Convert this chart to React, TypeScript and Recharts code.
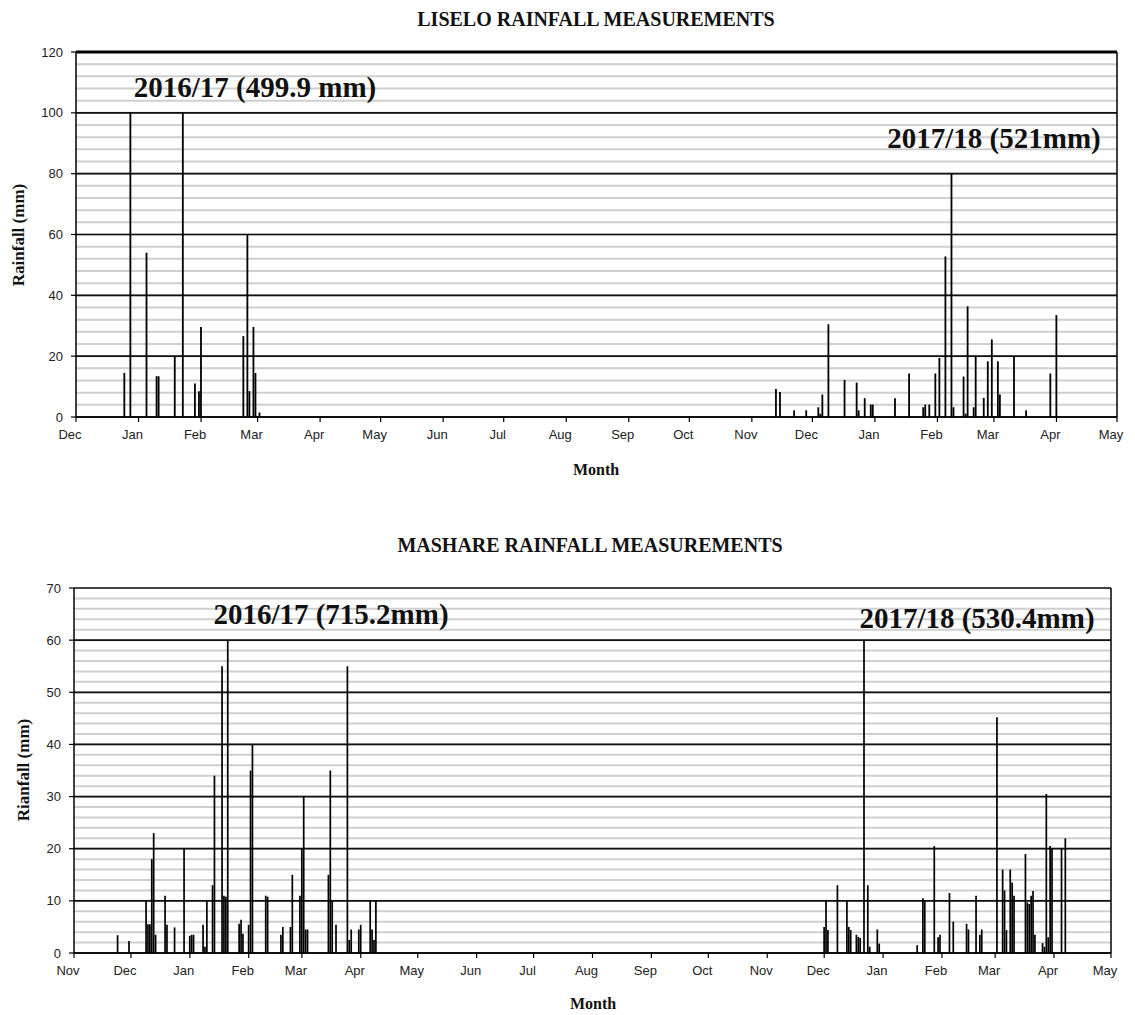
import React from 'react'
import { ComposedChart, Bar, XAxis, YAxis, CartesianGrid, ReferenceLine } from 'recharts'

const MONTHS = ['Jan', 'Feb', 'Mar', 'Apr', 'May', 'Jun', 'Jul', 'Aug', 'Sep', 'Oct', 'Nov', 'Dec']

// Liselo daily rainfall (mm)
const liseloDates = [
  '2016-12-25', '2016-12-28', '2017-01-05', '2017-01-10', '2017-01-11', '2017-01-19', '2017-01-23',
  '2017-01-29', '2017-01-31', '2017-02-01', '2017-02-22', '2017-02-24', '2017-02-25', '2017-02-27',
  '2017-02-28', '2017-03-02',
  '2017-11-13', '2017-11-15', '2017-11-22', '2017-11-28', '2017-12-04', '2017-12-05', '2017-12-06',
  '2017-12-09', '2017-12-17', '2017-12-23', '2017-12-24', '2017-12-27', '2017-12-30', '2017-12-31',
  '2018-01-11', '2018-01-18', '2018-01-25', '2018-01-26', '2018-01-28', '2018-01-31', '2018-02-02',
  '2018-02-05', '2018-02-08', '2018-02-09', '2018-02-14', '2018-02-15', '2018-02-16', '2018-02-19',
  '2018-02-20', '2018-02-24', '2018-02-26', '2018-02-28', '2018-03-03', '2018-03-04', '2018-03-11',
  '2018-03-17', '2018-03-29', '2018-04-01',
]
const liseloRain = [
  14.5, 100, 54, 13.4, 13.4, 20, 100,
  11, 8.5, 29.6, 26.6, 60, 8.5, 29.6,
  14.5, 1.5,
  9.2, 8.2, 2.2, 2.2, 3.2, 1.1, 7.4,
  30.5, 12.2, 11.3, 2.2, 6.2, 4.1, 4.1,
  6.2, 14.3, 3.2, 4.1, 4.1, 14.3, 19.4,
  52.8, 80, 3.2, 13.3, 1.1, 36.4, 3.2,
  20, 6.3, 18.3, 25.5, 18.3, 7.4, 20,
  2.2, 14.3, 33.5,
]
const liseloMonths = [
  '2016-12-01', '2017-01-01', '2017-02-01', '2017-03-01', '2017-04-01', '2017-05-01', '2017-06-01',
  '2017-07-01', '2017-08-01', '2017-09-01', '2017-10-01', '2017-11-01', '2017-12-01', '2018-01-01',
  '2018-02-01', '2018-03-01', '2018-04-01', '2018-05-01',
]
const liseloY = [0, 20, 40, 60, 80, 100, 120]

// Mashare daily rainfall (mm)
const mashareDates = [
  '2016-11-24', '2016-11-30', '2016-12-09', '2016-12-10', '2016-12-11', '2016-12-12', '2016-12-13',
  '2016-12-14', '2016-12-19', '2016-12-20', '2016-12-24', '2016-12-29', '2017-01-01', '2017-01-02',
  '2017-01-03', '2017-01-08', '2017-01-09', '2017-01-10', '2017-01-13', '2017-01-14', '2017-01-18',
  '2017-01-19', '2017-01-20', '2017-01-21', '2017-01-27', '2017-01-28', '2017-01-29', '2017-02-01',
  '2017-02-02', '2017-02-03', '2017-02-10', '2017-02-11', '2017-02-18', '2017-02-19', '2017-02-23',
  '2017-02-24', '2017-02-28', '2017-03-01', '2017-03-02', '2017-03-03', '2017-03-04', '2017-03-15',
  '2017-03-16', '2017-03-17', '2017-03-19', '2017-03-25', '2017-03-26', '2017-03-27', '2017-03-31',
  '2017-04-01', '2017-04-06', '2017-04-07', '2017-04-08', '2017-04-09',
  '2017-12-01', '2017-12-02', '2017-12-03', '2017-12-08', '2017-12-13', '2017-12-14', '2017-12-15',
  '2017-12-18', '2017-12-19', '2017-12-20', '2017-12-22', '2017-12-24', '2017-12-25', '2017-12-29',
  '2017-12-30', '2018-01-19', '2018-01-22', '2018-01-23', '2018-01-28', '2018-01-30', '2018-01-31',
  '2018-02-05', '2018-02-07', '2018-02-14', '2018-02-15', '2018-02-19', '2018-02-21', '2018-02-22',
  '2018-03-02', '2018-03-05', '2018-03-06', '2018-03-07', '2018-03-09', '2018-03-10', '2018-03-11',
  '2018-03-17', '2018-03-18', '2018-03-19', '2018-03-20', '2018-03-21', '2018-03-22', '2018-03-26',
  '2018-03-27', '2018-03-28', '2018-03-29', '2018-03-30', '2018-03-31', '2018-04-05', '2018-04-07',
]
const mashareRain = [
  3.4, 2.3, 10, 5.5, 5.5, 18, 23,
  3.5, 11, 5.4, 4.9, 20, 3.3, 3.5,
  3.5, 5.4, 1.2, 10, 13, 34, 55,
  11, 10.8, 60, 5.6, 6.4, 3.7, 5.4,
  35, 40, 11, 10.8, 3.5, 5, 5,
  15, 11, 20, 30, 4.5, 4.5, 15,
  35, 10, 5.4, 55, 2.5, 4.5, 4.5,
  5.4, 10, 4.5, 2.5, 10,
  5, 10, 4.4, 13, 10, 5, 4.4,
  3.5, 3.1, 2.9, 60, 13, 1.2, 4.5,
  1.8, 1.5, 10.5, 10.1, 20.5, 3, 3.5,
  11.5, 6, 5.6, 4.5, 11, 3.5, 4.5,
  45.2, 16, 12, 4.4, 16, 13.5, 11,
  19, 9.7, 9.4, 11, 11.9, 3.5, 1.9,
  1.2, 30.5, 3, 20.5, 20, 20, 22,
]
const mashareMonths = [
  '2016-11-01', '2016-12-01', '2017-01-01', '2017-02-01', '2017-03-01', '2017-04-01', '2017-05-01',
  '2017-06-01', '2017-07-01', '2017-08-01', '2017-09-01', '2017-10-01', '2017-11-01', '2017-12-01',
  '2018-01-01', '2018-02-01', '2018-03-01', '2018-04-01', '2018-05-01',
]
const mashareY = [0, 10, 20, 30, 40, 50, 60, 70]

const DAY = 86400000
const toDay = (d: string, start: string) => Math.round((Date.parse(d) - Date.parse(start)) / DAY)

const serif = '"Liberation Serif", "Times New Roman", serif'
const sans = '"Liberation Sans", Arial, sans-serif'

interface RainChartProps {
  dates: string[]
  rain: number[]
  months: string[]
  yTicks: number[]
  minorStep: number
  height: number
  margin: { top: number; right: number; bottom: number; left: number }
  barSize: number
  topStroke: string
  topWidth: number
}

function RainChart({ dates, rain, months, yTicks, minorStep, height, margin, barSize, topStroke, topWidth }: RainChartProps) {
  const start = months[0]
  const data = dates.map((d, i) => ({ day: toDay(d, start), rain: rain[i] }))
  const tickDays = months.map((m) => toDay(m, start))
  const last = tickDays[tickDays.length - 1]
  const yMax = yTicks[yTicks.length - 1]
  const minor: number[] = []
  for (let v = 0; v <= yMax; v += minorStep) minor.push(v)

  return (
    <ComposedChart width={1135} height={height} data={data} margin={margin}>
      <CartesianGrid
        yAxisId="main"
        vertical={false}
        horizontalValues={minor}
        stroke="#cfcfcf"
        strokeWidth={2}
      />
      <CartesianGrid yAxisId="main" vertical={false} stroke="#111" strokeWidth={1.7} />
      <XAxis
        type="number"
        dataKey="day"
        domain={[0, last]}
        ticks={tickDays}
        interval={0}
        allowDataOverflow
        height={30}
        tickSize={5}
        tickMargin={8}
        axisLine={{ stroke: '#000', strokeWidth: 1.5 }}
        tickLine={{ stroke: '#000', strokeWidth: 1.2 }}
        tick={{ fontSize: 13, fill: '#222', fontFamily: sans, dx: -6 }}
        tickFormatter={(v: number) => {
          const i = tickDays.indexOf(v)
          return i < 0 ? '' : MONTHS[new Date(Date.parse(months[i])).getUTCMonth()]
        }}
      />
      <YAxis
        yAxisId="main"
        domain={[0, yMax]}
        ticks={yTicks}
        interval={0}
        width={46}
        tickSize={5}
        tickMargin={8}
        axisLine={{ stroke: '#000', strokeWidth: 1.5 }}
        tickLine={{ stroke: '#000', strokeWidth: 1.2 }}
        tick={{ fontSize: 13, fill: '#222', fontFamily: sans }}
      />
      <ReferenceLine yAxisId="main" y={yMax} stroke={topStroke} strokeWidth={topWidth} />
      <ReferenceLine yAxisId="main" x={last} stroke="#000" strokeWidth={1.5} />
      <Bar yAxisId="main" dataKey="rain" fill="#000" barSize={barSize} isAnimationActive={false} />
    </ComposedChart>
  )
}

function Txt({ x, y, size, children, rotate = false }: { x: number; y: number; size: number; children: React.ReactNode; rotate?: boolean }) {
  return (
    <div
      style={{
        position: 'absolute',
        left: x,
        top: y,
        transform: `translate(-50%, -50%)${rotate ? ' rotate(-90deg)' : ''}`,
        fontFamily: serif,
        fontWeight: 700,
        fontSize: size,
        color: '#111',
        whiteSpace: 'nowrap',
        lineHeight: 1,
      }}
    >
      {children}
    </div>
  )
}

export default function App() {
  return (
    <div style={{ position: 'absolute', left: 0, top: 0, width: 1135, height: 1015, background: '#fff', overflow: 'hidden' }}>
      <div style={{ position: 'absolute', left: 0, top: 0 }}>
        <RainChart
          dates={liseloDates}
          rain={liseloRain}
          months={liseloMonths}
          yTicks={liseloY}
          minorStep={4}
          height={470}
          margin={{ top: 52, right: 18, bottom: 23, left: 30 }}
          barSize={3}
          topStroke="#000"
          topWidth={3}
        />
      </div>
      <div style={{ position: 'absolute', left: 0, top: 500 }}>
        <RainChart
          dates={mashareDates}
          rain={mashareRain}
          months={mashareMonths}
          yTicks={mashareY}
          minorStep={2}
          height={515}
          margin={{ top: 88, right: 24, bottom: 32, left: 28 }}
          barSize={2}
          topStroke="#444"
          topWidth={1.2}
        />
      </div>

      <Txt x={596} y={19} size={20}>LISELO RAINFALL MEASUREMENTS</Txt>
      <Txt x={255} y={87} size={29}>2016/17 (499.9 mm)</Txt>
      <Txt x={994} y={138} size={29}>2017/18 (521mm)</Txt>
      <Txt x={18} y={235} size={17} rotate>Rainfall (mm)</Txt>
      <Txt x={596} y={470} size={16}>Month</Txt>

      <Txt x={590} y={545} size={20}>MASHARE RAINFALL MEASUREMENTS</Txt>
      <Txt x={331} y={614} size={29}>2016/17 (715.2mm)</Txt>
      <Txt x={977} y={618} size={29}>2017/18 (530.4mm)</Txt>
      <Txt x={23} y={770} size={17} rotate>Rianfall (mm)</Txt>
      <Txt x={593} y={1004} size={16}>Month</Txt>
    </div>
  )
}
